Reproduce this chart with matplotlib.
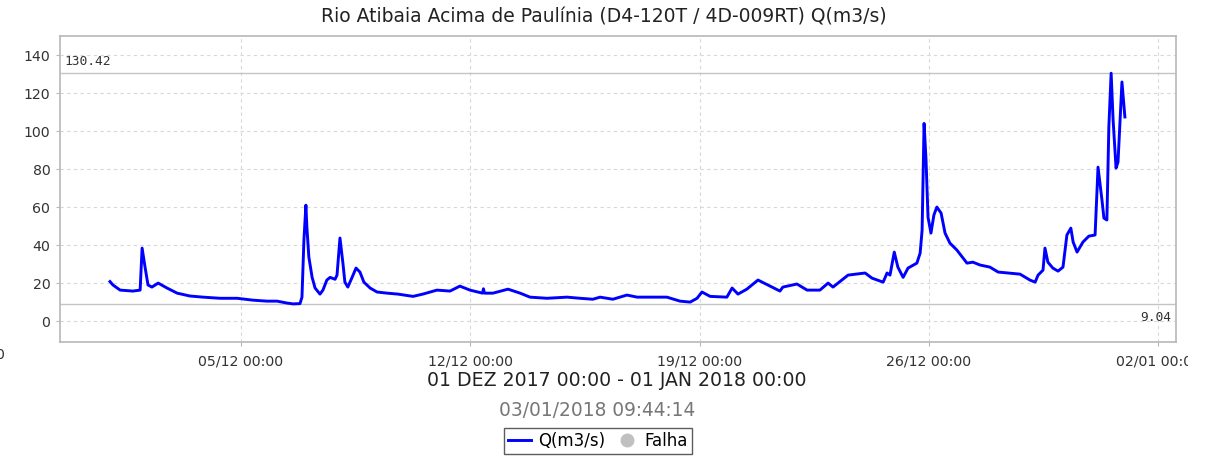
import datetime as dt
import matplotlib
matplotlib.use("Agg")
import matplotlib.pyplot as plt
import matplotlib.dates as mdates
from matplotlib.lines import Line2D
from matplotlib.transforms import Bbox

# ---- data (days since 01/12/2017 00:00, flow m3/s) ----
days = [0.00, 0.09, 0.31, 0.70, 0.92, 0.98, 1.07, 1.16, 1.28, 1.47, 1.74, 2.05, 2.44,
        2.84, 3.36, 3.88, 4.37, 4.79, 5.10, 5.40, 5.59, 5.80, 5.86, 5.92, 5.98, 6.01,
        6.07, 6.17, 6.26, 6.41, 6.50, 6.62, 6.72, 6.87, 6.93, 7.02, 7.11, 7.17, 7.26,
        7.39, 7.51, 7.63, 7.75, 7.94, 8.15, 8.46, 8.79, 9.25, 9.55, 9.98, 10.38, 10.68,
        10.99, 11.37, 11.40, 11.43, 11.69, 12.15, 12.52, 12.82, 13.34, 13.95, 14.35,
        14.74, 14.96, 15.35, 15.78, 16.09, 17.00, 17.40, 17.71, 17.92, 18.07, 18.32,
        18.83, 18.99, 19.17, 19.44, 19.78, 20.15, 20.45, 20.54, 20.97, 21.28, 21.67,
        21.92, 22.07, 22.53, 23.05, 23.26, 23.60, 23.72, 23.81, 23.94, 24.05, 24.21,
        24.36, 24.63, 24.73, 24.79, 24.85, 24.91, 24.97, 25.06, 25.15, 25.24, 25.37,
        25.49, 25.64, 25.85, 26.16, 26.34, 26.56, 26.86, 27.11, 27.78, 28.08, 28.24,
        28.33, 28.48, 28.54, 28.63, 28.78, 28.94, 29.09, 29.21, 29.33, 29.40, 29.52,
        29.70, 29.88, 30.07, 30.16, 30.28, 30.34, 30.43, 30.49, 30.56, 30.62, 30.71,
        30.77, 30.89, 30.98]
flow = [20.8, 19.0, 16.3, 15.8, 16.3, 38.4, 28.4, 19.0, 17.9, 20.0, 17.4, 14.7, 13.2,
        12.6, 12.0, 12.0, 11.0, 10.5, 10.5, 9.5, 9.04, 9.2, 12.6, 42.6, 61.0, 49.5,
        33.7, 23.0, 17.4, 14.2, 16.3, 21.6, 23.0, 22.0, 24.2, 43.7, 30.5, 20.5, 17.9,
        23.0, 27.9, 25.8, 20.5, 17.4, 15.3, 14.7, 14.2, 13.0, 14.2, 16.3, 15.8, 18.4,
        16.3, 14.7, 17.0, 14.7, 14.7, 16.8, 14.7, 12.6, 12.0, 12.6, 12.0,
        11.5, 12.6, 11.5, 13.7, 12.6, 12.6, 10.5, 10.0, 12.0, 15.3, 13.0,
        12.6, 17.4, 14.2, 16.8, 21.6, 18.4, 15.8, 17.9, 19.5, 16.3, 16.3,
        20.0, 17.9, 24.2, 25.3, 22.6, 20.5, 25.3, 24.2, 36.3, 28.4, 23.0,
        27.9, 30.5, 35.8, 47.9, 104.0, 84.7, 54.7, 46.3, 55.8, 60.0, 56.8,
        46.3, 41.0, 37.4, 30.5, 31.0, 29.5, 28.4, 25.8, 24.7, 21.6, 20.5,
        24.2, 26.8, 38.4, 31.0, 27.9, 26.3, 28.4, 45.3, 48.9, 41.6, 36.3,
        41.6, 44.7, 45.3, 81.0, 63.7, 54.2, 53.2, 102.0, 130.42, 105.8, 80.5,
        83.7, 125.8, 107.4]
max_val = 130.42
min_val = 9.04
tick_dates = ["05/12/2017", "12/12/2017", "19/12/2017", "26/12/2017", "02/01/2018"]
title = "Rio Atibaia Acima de Paulínia (D4-120T / 4D-009RT) Q(m3/s)"
period = "01 DEZ 2017 00:00 - 01 JAN 2018 00:00"
stamp = "03/01/2018 09:44:14"

base = dt.datetime(2017, 12, 1)
times = [base + dt.timedelta(days=d) for d in days]

W, H = 1216, 458
fig = plt.figure(figsize=(W / 100, H / 100), dpi=100)
ax = fig.add_axes([60 / W, 1 - 342 / H, (1176 - 60) / W, (342 - 36) / H])

ax.plot(times, flow, color="#0000ff", lw=2.1, solid_joinstyle="round", zorder=3)
ax.axhline(max_val, color="#c4c4c4", lw=1.0, zorder=2)
ax.axhline(min_val, color="#c4c4c4", lw=1.0, zorder=2)

ax.set_ylim(-11, 150)
ax.set_xlim(base - dt.timedelta(days=1.526), base + dt.timedelta(days=32.54))
ax.set_yticks(range(0, 141, 20))
ax.set_xticks([dt.datetime.strptime(s, "%d/%m/%Y") for s in tick_dates])
ax.xaxis.set_major_formatter(mdates.DateFormatter("%d/%m %H:%M"))
ax.grid(True, color="#d8d8d8", ls=(0, (3, 3)), lw=0.8)
ax.set_axisbelow(True)
for s in ax.spines.values():
    s.set_color("#b8b8b8")
    s.set_linewidth(1.2)
ax.tick_params(axis="both", colors="#b8b8b8", labelcolor="#333333", length=3,
               labelsize=10.2)
ax.tick_params(axis="x", pad=6)
ax.tick_params(axis="y", pad=4)

ax.text(0.004, max_val + 3, f"{max_val:.2f}", transform=ax.get_yaxis_transform(),
        fontsize=9.3, family="DejaVu Sans Mono", color="#333333", va="bottom", ha="left")
ax.text(0.996, min_val - 3.5, f"{min_val:.2f}", transform=ax.get_yaxis_transform(),
        fontsize=9.3, family="DejaVu Sans Mono", color="#333333", va="top", ha="right")

fig.text(604 / W, 1 - 17 / H, title, ha="center", va="center", fontsize=13.5, color="#222222")
fig.text(617 / W, 1 - 381 / H, period, ha="center", va="center", fontsize=13.6, color="#222222")
fig.text(597 / W, 1 - 411 / H, stamp, ha="center", va="center", fontsize=13.4, color="#777777")
fig.text(4 / W, 1 - 355 / H, "0", ha="right", va="center", fontsize=10.2, color="#333333")

handles = [Line2D([], [], color="#0000ff", lw=2.1),
           Line2D([], [], color="#c0c0c0", marker="o", ls="none", markersize=9)]
leg = fig.legend(handles, ["Q(m3/s)", "Falha"], loc="center", bbox_to_anchor=(598 / W, 1 - 441 / H),
                 ncol=2, frameon=True, fancybox=False, fontsize=12, handlelength=1.4,
                 handletextpad=0.4, columnspacing=0.6, borderpad=0.25, borderaxespad=0)
leg.get_frame().set_edgecolor("#333333")
leg.get_frame().set_linewidth(1.0)

fig.canvas.draw()
clip = Bbox.from_extents(0, 0, 1188, H)
for lab in ax.get_xticklabels():
    lab.set_clip_on(True)
    lab.set_clip_box(clip)

fig.savefig("out.png", dpi=100)
